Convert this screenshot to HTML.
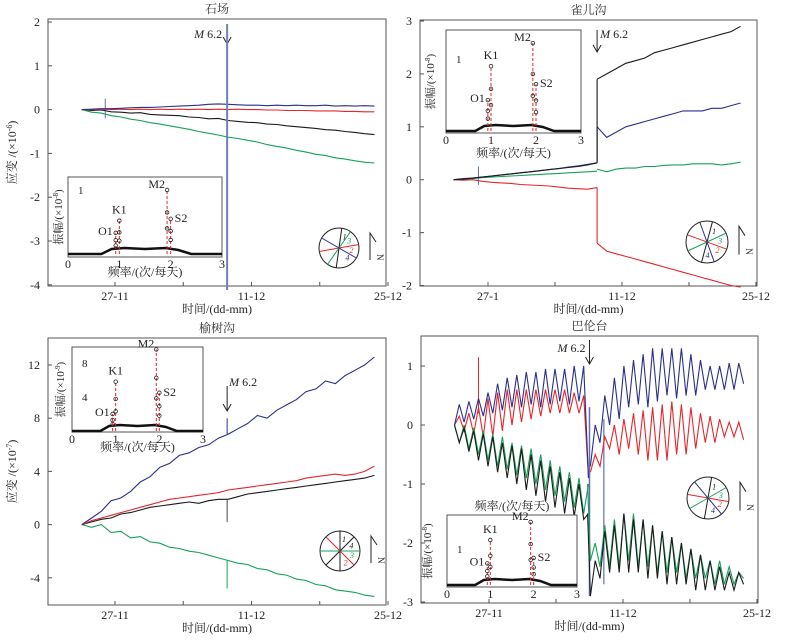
<!DOCTYPE html>
<html><head><meta charset="utf-8"><style>
html,body{margin:0;padding:0;background:#fff;}
svg{display:block;font-family:"Liberation Serif","Noto Serif CJK SC","Noto Sans CJK SC",serif;}
</style></head><body>
<svg id="fig" width="789" height="643" viewBox="0 0 789 643" xmlns="http://www.w3.org/2000/svg"></svg>
<script>
// ---------- data ----------
const xTickLabels = ["27-11","11-12","25-12"];
const xTickLabelsB = ["27-1","11-12","25-12"];
const yTicksA = [2,1,0,-1,-2,-3,-4];
const yTicksB = [3,2,1,0,-1,-2];
const yTicksC = [12,8,4,0,-4];
const yTicksD = [1,0,-1,-2,-3];
const aStart = -3.4, aStep = 1;
const aBlue = [0,0.01,0.02,0.02,0.03,0.04,0.05,0.05,0.06,0.07,0.08,0.09,0.10,0.12,0.13,0.12,0.11,0.10,0.10,0.09,0.10,0.09,0.10,0.09,0.09,0.10,0.08,0.09,0.08,0.09,0.08];
const aRed = [0,0,0.01,0,0.01,0,0.01,0,0.01,0,0.01,0,0.01,0,0.01,0,0.01,0,0,-0.01,-0.01,-0.02,-0.02,-0.02,-0.03,-0.03,-0.03,-0.04,-0.04,-0.05,-0.05];
const aBlack = [0,-0.02,-0.01,-0.05,-0.06,-0.08,-0.07,-0.11,-0.12,-0.13,-0.14,-0.17,-0.18,-0.21,-0.2,-0.25,-0.27,-0.29,-0.3,-0.33,-0.34,-0.37,-0.39,-0.41,-0.43,-0.46,-0.47,-0.5,-0.52,-0.55,-0.57];
const aGreen = [0,-0.06,-0.08,-0.14,-0.17,-0.22,-0.25,-0.3,-0.33,-0.37,-0.41,-0.45,-0.5,-0.54,-0.58,-0.63,-0.66,-0.7,-0.74,-0.8,-0.84,-0.88,-0.93,-0.97,-1.02,-1.05,-1.1,-1.13,-1.17,-1.2,-1.22];
const aQuake = 11.5;
const bPreStart = -3.6, bPostStart = 11.4, bStep = 1;
const bBlackPre = [0,0.01,0.03,0.05,0.07,0.09,0.11,0.13,0.15,0.17,0.19,0.21,0.23,0.25,0.28,0.32];
const bBlackPost = [1.9,2.0,2.1,2.2,2.25,2.3,2.4,2.45,2.5,2.55,2.6,2.65,2.7,2.75,2.8,2.9];
const bBluePre = [0,0.02,0.03,0.05,0.07,0.09,0.11,0.13,0.15,0.17,0.19,0.21,0.24,0.26,0.29,0.32];
const bBluePost = [1.0,0.8,0.9,1.0,1.05,1.1,1.15,1.2,1.25,1.3,1.3,1.3,1.35,1.35,1.4,1.45];
const bGreenPre = [0,0.01,0.02,0.04,0.05,0.06,0.07,0.08,0.09,0.1,0.11,0.12,0.13,0.14,0.15,0.16];
const bGreenPost = [0.2,0.15,0.2,0.22,0.22,0.25,0.25,0.27,0.28,0.28,0.3,0.3,0.3,0.28,0.3,0.33];
const bRedPre = [0,-0.01,0,-0.03,-0.05,-0.06,-0.07,-0.09,-0.1,-0.11,-0.12,-0.14,-0.16,-0.17,-0.18,-0.15];
const bRedPost = [-1.2,-1.35,-1.4,-1.45,-1.5,-1.55,-1.6,-1.65,-1.7,-1.75,-1.8,-1.85,-1.9,-1.95,-2.0,-2.03];
const cStart = -3.4, cStep = 1;
const cBlue = [0,0.5,1,1.8,2,2.5,3.2,3.6,4.3,4.6,5.2,5.4,5.8,6.0,6.5,6.8,7.2,7.6,8.2,8.0,8.6,9.0,9.4,10.0,10.2,10.8,10.6,11.2,11.6,12.0,12.6];
const cRed = [0,0.3,0.5,0.7,0.9,1.1,1.3,1.5,1.7,1.9,2.0,2.1,2.2,2.3,2.4,2.6,2.7,2.8,2.9,3.0,3.1,3.2,3.3,3.5,3.6,3.7,3.8,3.7,3.8,4.0,4.4];
const cBlack = [0,0.2,0.4,0.5,0.8,0.9,1.1,1.3,1.4,1.5,1.6,1.7,1.6,1.8,1.9,1.9,2.1,2.3,2.4,2.5,2.6,2.7,2.8,2.9,3.0,3.1,3.2,3.3,3.4,3.5,3.7];
const cGreen = [0,-0.2,0,-0.6,-0.5,-1.0,-0.9,-1.3,-1.4,-1.7,-1.8,-2.0,-2.1,-2.3,-2.5,-2.7,-2.9,-3.0,-3.3,-3.4,-3.7,-3.8,-4.1,-4.2,-4.5,-4.6,-4.9,-5.0,-5.1,-5.3,-5.4];
const cQuake = 11.5;
const dPreStart = -3.6, dPostStart = 10.6, dStep = 0.5;
const dBluePre = [0,0.35,0.05,0.4,0.1,0.45,0.15,0.55,0.2,0.7,0.25,0.8,0.3,0.85,0.3,0.9,0.35,0.9,0.3,0.95,0.35,0.95,0.4,0.95,0.35,1.0,0.4,1.0,-0.9];
const dBluePost = [-0.7,0.0,-0.3,0.5,0.0,0.8,0.1,1.0,0.3,1.1,0.35,1.2,0.3,1.3,0.4,1.3,0.5,1.3,0.45,1.3,0.5,1.2,0.5,1.1,0.6,1.0,0.6,1.0,0.6,1.05,0.6,1.05,0.7];
const dRedPre = [0,0.15,-0.1,0.2,-0.15,0.3,-0.2,0.45,-0.2,0.55,-0.1,0.6,0,0.6,0.05,0.6,0.1,0.6,0.15,0.6,0.2,0.6,0.2,0.6,0.2,0.55,0.2,0.5,-0.9];
const dRedPost = [-0.8,-0.5,-0.7,-0.2,-0.4,0.0,-0.5,0.1,-0.4,0.2,-0.5,0.25,-0.6,0.3,-0.6,0.35,-0.6,0.4,-0.5,0.35,-0.5,0.3,-0.4,0.2,-0.3,0.15,-0.3,0.1,-0.2,0.05,-0.2,0.05,-0.25];
const dGreenPre = [0,-0.3,0,-0.4,-0.05,-0.5,-0.1,-0.6,-0.15,-0.7,-0.2,-0.75,-0.3,-0.85,-0.35,-0.9,-0.4,-1.0,-0.5,-1.1,-0.6,-1.2,-0.7,-1.3,-0.8,-1.4,-0.9,-1.5,-1.0];
const dGreenPost = [-2.3,-2.0,-2.4,-1.7,-2.4,-1.6,-2.4,-1.5,-2.3,-1.5,-2.4,-1.6,-2.4,-1.7,-2.5,-1.8,-2.5,-1.9,-2.5,-2.0,-2.6,-2.1,-2.6,-2.2,-2.6,-2.3,-2.7,-2.3,-2.7,-2.4,-2.7,-2.5,-2.6];
const dBlackPre = [0,-0.3,-0.05,-0.45,-0.1,-0.6,-0.15,-0.7,-0.2,-0.8,-0.3,-0.9,-0.35,-1.0,-0.4,-1.1,-0.5,-1.2,-0.6,-1.3,-0.7,-1.4,-0.8,-1.5,-0.9,-1.55,-1.0,-1.6,-1.5];
const dBlackPost = [-2.9,-2.3,-2.6,-1.8,-2.5,-1.7,-2.5,-1.5,-2.5,-1.6,-2.5,-1.6,-2.6,-1.7,-2.6,-1.8,-2.7,-1.9,-2.7,-2.0,-2.7,-2.1,-2.8,-2.2,-2.8,-2.3,-2.8,-2.4,-2.8,-2.5,-2.8,-2.5,-2.7];
const dQuake = 10.5;
const tideNames = ["O1","K1","M2","S2"];
const tideFreq = [0.93,1.0,1.93,2.0];
const specA = [0.33,0.52,1.0,0.55];
const specB = [0.43,0.9,1.22,0.65];
const specC = [2.0,5.8,9.6,4.5];
const specD = [0.6,1.25,1.75,0.75];

// ---------- helpers ----------
const NS = "http://www.w3.org/2000/svg";
const svg = document.getElementById("fig");
function mk(tag, attrs, parent){
  const e = document.createElementNS(NS, tag);
  for (const k in attrs) e.setAttribute(k, attrs[k]);
  (parent||svg).appendChild(e);
  return e;
}
const COL = {blue:"#2b2f8c", red:"#e5262b", black:"#1a1a1a", green:"#17a05a"};

function panel(name, box, title, x, y, yTicks, xLabels, yLabel){
  const g = mk("g", {});
  
  
  const r = mk("rect", {x:box[0], y:box[1], width:box[2]-box[0], height:box[3]-box[1], fill:"none", stroke:"#555", "stroke-width":1}, g);
  
  
  const t = mk("text", {x:(box[0]+box[2])/2, y:box[1]-6, "font-size":12, "text-anchor":"middle", fill:"#333"}, g);
  t.textContent = title;
  
  
  yTicks.forEach(v=>{
    const yy = y(v);
    mk("line", {x1:box[0], x2:box[0]+4, y1:yy, y2:yy, stroke:"#555"}, g);
    const tl = mk("text", {x:box[0]-8, y:yy+4, "font-size":12, "text-anchor":"end", fill:"#222"}, g);
    tl.textContent = v;
    
    
  });
  [0,7,14,21,28].forEach((d,i)=>{
    const xx = x(d);
    mk("line", {x1:xx, x2:xx, y1:box[3], y2:box[3]-4, stroke:"#555"}, g);
    if (i%2===0){
      const tl = mk("text", {x:xx, y:box[3]+14, "font-size":12, "text-anchor":"middle", fill:"#222"}, g);
      tl.textContent = xLabels[i/2];
      
      
    }
  });
  const xl = mk("text", {x:(box[0]+box[2])/2, y:box[3]+27, "font-size":12, "text-anchor":"middle", fill:"#222"}, g);
  xl.textContent = "时间/(dd-mm)";
  
  
  if (yLabel){
    const cy = (box[1]+box[3])/2;
    const yl = mk("text", {x:16, y:cy, "font-size":12, "text-anchor":"middle", fill:"#222", transform:`rotate(-90 16 ${cy})`}, g);
    yl.innerHTML = yLabel;
    
    
  }
  return g;
}
function series(g, name, vals, start, step, x, y, color){
  const pts = vals.map((v,i)=> x(start+i*step).toFixed(1)+","+y(v).toFixed(1)).join(" ");
  const p = mk("polyline", {points:pts, fill:"none", stroke:color, "stroke-width":1.1}, g);
  
  
  return p;
}
function joinLine(g, name, x0, v0, x1, v1, x, y, color){
  const l = mk("line", {x1:x(x0), y1:y(v0), x2:x(x1), y2:y(v1), stroke:color, "stroke-width":1.1}, g);
  
  
}
function quake(g, ax, y0, y1, tx, ty, anchor){
  const a = mk("g", {}, g);
  
  
  mk("line", {x1:ax, x2:ax, y1:y0, y2:y1, stroke:"#222", "stroke-width":1}, a);
  mk("polyline", {points:`${ax-4},${y1-7} ${ax},${y1} ${ax+4},${y1-7}`, fill:"none", stroke:"#222", "stroke-width":1}, a);
  const t = mk("text", {x:tx, y:ty, "font-size":12, "text-anchor":anchor, fill:"#222"}, a);
  t.innerHTML = '<tspan font-style="italic">M</tspan> 6.2';
  
  
}
function inset(g, box, spec, ylab, ticks, ampScale, base, xlabY, ylabX){
  const ig = mk("g", {}, g);
  
  
  mk("rect", {x:box[0], y:box[1], width:box[2]-box[0], height:box[3]-box[1], fill:"#fff", stroke:"#555"}, ig);
  const fx = f => box[0] + f*(box[2]-box[0])/3;
  const fy = a => base - a*ampScale;
  const hump = mk("path", {d:`M${box[0]} ${base} L${fx(0.65)} ${base} L${fx(0.85)} ${base-5} L${fx(1.1)} ${base-6} L${fx(1.5)} ${base-5} L${fx(1.9)} ${base-6} L${fx(2.15)} ${base-4} L${fx(2.4)} ${base} L${box[2]} ${base}`, fill:"none", stroke:"#111", "stroke-width":2.5}, ig);
  
  
  spec.forEach((a,i)=>{
    const px = fx(tideFreq[i]), py = fy(a);
    const d = mk("line", {x1:px, x2:px, y1:base, y2:py, stroke:"#e5262b", "stroke-width":1, "stroke-dasharray":"3,2"}, ig);
    
    
    [0,0.35,0.6].forEach(k=>{
      const c = mk("circle", {cx:px, cy:py+(base-py)*k, r:1.8, fill:"none", stroke:"#222", "stroke-width":0.8}, ig);
      
      
    });
    const off = [[-3,2,"end"],[0,-7,"middle"],[-2,-2,"end"],[4,3,"start"]][i];
    const t = mk("text", {x:px+off[0], y:py+off[1], "font-size":12, "text-anchor":off[2], fill:"#222"}, ig);
    t.textContent = tideNames[i];
    
    
  });
  ticks.forEach(v=>{
    const t = mk("text", {x:box[0]+10, y:fy(v)+4, "font-size":11, fill:"#222"}, ig);
    t.textContent = v;
    
    
  });
  [0,1,2,3].forEach(f=>{
    const t = mk("text", {x:fx(f), y:box[3]+11, "font-size":12, "text-anchor":"middle", fill:"#222"}, ig);
    t.textContent = f;
    
    
  });
  const xl = mk("text", {x:(box[0]+box[2])/2, y:xlabY, "font-size":12, "text-anchor":"middle", fill:"#222"}, ig);
  xl.textContent = "频率/(次/每天)";
  
  
  const cy = (box[1]+box[3])/2;
  const yl = mk("text", {x:ylabX, y:cy, "font-size":11, "text-anchor":"middle", fill:"#222", transform:`rotate(-90 ${ylabX} ${cy})`}, ig);
  yl.innerHTML = ylab;
  
  
}
function compass(g, cx, cy, r, lines){
  const c = mk("g", {}, g);
  
  
  mk("circle", {cx, cy, r, fill:"#fff", stroke:"#222", "stroke-width":1}, c);
  lines.forEach(([ang,col,lab])=>{
    const a = ang*Math.PI/180, dx = Math.sin(a)*r, dy = -Math.cos(a)*r;
    mk("line", {x1:cx-dx, y1:cy-dy, x2:cx+dx, y2:cy+dy, stroke:col, "stroke-width":1}, c);
    const t = mk("text", {x:cx+dx*0.6+Math.cos(a)*4, y:cy+dy*0.6+Math.sin(a)*4+3, "font-size":8, "font-style":"italic", fill:col, "text-anchor":"middle"}, c);
    t.textContent = lab;
  });
  mk("polyline", {points:`${cx+r+11},${cy+r*0.6} ${cx+r+11},${cy-r*0.75} ${cx+r+17},${cy-r*0.3}`, fill:"none", stroke:"#222"}, c);
  const n = mk("text", {x:cx+r+18, y:cy+r*0.3, "font-size":9, fill:"#222", transform:`rotate(90 ${cx+r+18} ${cy+r*0.3})`}, c);
  n.textContent = "N";
}

// ---------- panel A ----------
{
  const box=[48,19,386,286];
  const x = d => 115 + d*9.75, y = v => 22 + (2-v)*43.8;
  const g = panel("panel-shichang", box, "石场", x, y, yTicksA, xTickLabels, "应变 /(×10<tspan baseline-shift='super' font-size='8'>-6</tspan>)");
  mk("line", {x1:x(-1), x2:x(-1), y1:y(0.25), y2:y(-0.2), stroke:"#6070b0"}, g);
  mk("line", {x1:x(aQuake), x2:x(aQuake), y1:y(1.95), y2:box[3]+4, stroke:"#7080b8", "stroke-width":2});
  series(g,"series-black",aBlack,aStart,aStep,x,y,COL.black);
  series(g,"series-green",aGreen,aStart,aStep,x,y,COL.green);
  series(g,"series-red",aRed,aStart,aStep,x,y,COL.red);
  series(g,"series-blue",aBlue,aStart,aStep,x,y,COL.blue);
  quake(g, x(aQuake), 24, 44, x(aQuake)-5, 38, "end");
  inset(g,[68,177,222,257],specA,"振幅/(×10<tspan baseline-shift='super' font-size='7'>-8</tspan>)",[1],64,254,276,62);
  compass(g,339,248,20,[[8,COL.black,"1"],[35,COL.green,"3"],[80,COL.red,"2"],[120,COL.blue,"4"]]);
}
// ---------- panel B ----------
{
  const box=[420,20,757,286];
  const x = d => 488 + d*9.57, y = v => 21 + (3-v)*52.9;
  const g = panel("panel-queergou", box, "雀儿沟", x, y, yTicksB, xTickLabelsB, null);
  mk("line", {x1:x(-1), x2:x(-1), y1:y(0.25), y2:y(-0.1), stroke:"#6070b0"}, g);
  series(g,"series-red-pre",bRedPre,bPreStart,bStep,x,y,COL.red);
  series(g,"series-red-post",bRedPost,bPostStart,bStep,x,y,COL.red);
  joinLine(g,"red-step",bPostStart,bRedPre[bRedPre.length-1],bPostStart,bRedPost[0],x,y,COL.red);
  series(g,"series-green-pre",bGreenPre,bPreStart,bStep,x,y,COL.green);
  series(g,"series-green-post",bGreenPost,bPostStart,bStep,x,y,COL.green);
  series(g,"series-blue-pre",bBluePre,bPreStart,bStep,x,y,COL.blue);
  series(g,"series-blue-post",bBluePost,bPostStart,bStep,x,y,COL.blue);
  joinLine(g,"blue-step",bPostStart,bBluePre[bBluePre.length-1],bPostStart,bBluePost[0],x,y,COL.blue);
  series(g,"series-black-pre",bBlackPre,bPreStart,bStep,x,y,COL.black);
  series(g,"series-black-post",bBlackPost,bPostStart,bStep,x,y,COL.black);
  joinLine(g,"black-step",bPostStart,bBlackPre[bBlackPre.length-1],bPostStart,bBlackPost[0],x,y,COL.black);
  quake(g, x(bPostStart), 30, 52, x(bPostStart)+3, 38, "start");
  inset(g,[446,30,581,133],specB,"振幅/(×10<tspan baseline-shift='super' font-size='7'>-8</tspan>)",[1],72,131,157,434);
  compass(g,707,242,21,[[15,COL.black,"1"],[65,COL.green,"3"],[110,COL.red,"2"],[160,COL.blue,"4"]]);
}
// ---------- panel C ----------
{
  const box=[48,338,386,605];
  const x = d => 115 + d*9.75, y = v => 524.6 - v*13.3;
  const g = panel("panel-yushugou", box, "榆树沟", x, y, yTicksC, xTickLabels, "应变 /(×10<tspan baseline-shift='super' font-size='8'>-7</tspan>)");
  series(g,"series-green",cGreen,cStart,cStep,x,y,COL.green);
  series(g,"series-black",cBlack,cStart,cStep,x,y,COL.black);
  series(g,"series-red",cRed,cStart,cStep,x,y,COL.red);
  series(g,"series-blue",cBlue,cStart,cStep,x,y,COL.blue);
  mk("line", {x1:x(cQuake), x2:x(cQuake), y1:y(6.8), y2:y(8), stroke:COL.blue}, g);
  mk("line", {x1:x(cQuake), x2:x(cQuake), y1:y(1.9), y2:y(0.2), stroke:"#444"}, g);
  mk("line", {x1:x(cQuake), x2:x(cQuake), y1:y(-2.7), y2:y(-4.8), stroke:COL.green}, g);
  quake(g, x(cQuake), 386, 411, x(cQuake)+2, 386, "start");
  inset(g,[72,347,203,432],specC,"振幅/(×10<tspan baseline-shift='super' font-size='7'>-9</tspan>)",[8,4],8.5,431,451,64);
  compass(g,340,551,20,[[0,COL.black,"1"],[45,COL.black,"4"],[90,COL.green,"3"],[135,COL.red,"2"]]);
}
// ---------- panel D ----------
{
  const box=[421,336,758,603];
  const x = d => 489 + d*9.57, y = v => 425 - v*59;
  const g = panel("panel-baluntai", box, "巴伦台", x, y, yTicksD, xTickLabels, null);
  mk("line", {x1:x(dQuake), x2:x(dQuake), y1:y(0.3), y2:y(-2.9), stroke:"#6070b0", "stroke-width":1.5}, g);
  mk("line", {x1:x(12), x2:x(12), y1:y(0.1), y2:y(-2.7), stroke:"#6070b0", "stroke-width":1.2}, g);
  mk("line", {x1:x(-1.1), x2:x(-1.1), y1:y(0.2), y2:y(1.15), stroke:COL.red}, g);
  series(g,"series-red-pre",dRedPre,dPreStart,dStep,x,y,COL.red);
  series(g,"series-red-post",dRedPost,dPostStart,dStep,x,y,COL.red);
  series(g,"series-blue-pre",dBluePre,dPreStart,dStep,x,y,COL.blue);
  series(g,"series-blue-post",dBluePost,dPostStart,dStep,x,y,COL.blue);
  series(g,"series-green-pre",dGreenPre,dPreStart,dStep,x,y,COL.green);
  series(g,"series-green-post",dGreenPost,dPostStart,dStep,x,y,COL.green);
  series(g,"series-black-pre",dBlackPre,dPreStart,dStep,x,y,COL.black);
  series(g,"series-black-post",dBlackPost,dPostStart,dStep,x,y,COL.black);
  joinLine(g,"black-step",dPostStart-dStep*0.6,dBlackPre[dBlackPre.length-1],dPostStart,dBlackPost[0],x,y,COL.black);
  joinLine(g,"green-step",dPostStart-dStep*0.6,dGreenPre[dGreenPre.length-1],dPostStart,dGreenPost[0],x,y,COL.green);
  quake(g, x(dQuake), 340, 364, x(dQuake)-4, 352, "end");
  inset(g,[447,515,577,587],specD,"振幅/(×10<tspan baseline-shift='super' font-size='7'>-8</tspan>)",[1],36,585,510,431);
  compass(g,708,498,21,[[10,COL.black,"1"],[60,COL.green,"3"],[100,COL.red,"2"],[140,COL.blue,"4"]]);
}
</script>
</body></html>
